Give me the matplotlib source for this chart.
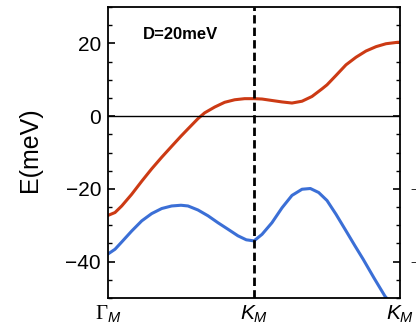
import matplotlib
matplotlib.use("Agg")
import matplotlib.pyplot as plt

# band energies along Gamma_M -> K_M -> K_M (k in path units)
k_upper = [0.000, 0.048, 0.094, 0.162, 0.231, 0.299, 0.368, 0.436, 0.500,
           0.548, 0.616, 0.662, 0.731, 0.799, 0.868, 0.936, 1.000, 1.055,
           1.123, 1.192, 1.260, 1.329, 1.397, 1.466, 1.500, 1.562, 1.630,
           1.699, 1.767, 1.836, 1.904, 1.984, 2.000]
e_upper = [-27.3, -26.5, -24.7, -21.5, -17.9, -14.5, -11.3, -8.3, -5.5,
           -3.5, -0.7, 0.9, 2.5, 3.8, 4.5, 4.8, 4.8, 4.7,
           4.3, 3.9, 3.6, 4.1, 5.4, 7.5, 8.6, 11.2, 14.1,
           16.2, 17.9, 19.1, 19.9, 20.3, 20.3]

k_lower = [0.000, 0.048, 0.094, 0.162, 0.231, 0.299, 0.368, 0.436, 0.500,
           0.548, 0.616, 0.685, 0.753, 0.822, 0.890, 0.947, 1.000, 1.055,
           1.123, 1.192, 1.260, 1.329, 1.386, 1.443, 1.500, 1.562, 1.637,
           1.692, 1.747, 1.822, 1.897, 1.950]
e_lower = [-37.9, -36.6, -34.6, -31.6, -28.8, -26.8, -25.4, -24.7, -24.5,
           -24.7, -25.8, -27.4, -29.3, -31.1, -32.9, -34.0, -34.3, -32.5,
           -29.3, -25.2, -21.8, -20.1, -19.9, -21.0, -23.2, -27.0, -32.0,
           -35.7, -39.3, -44.5, -49.5, -52.0]

k_ticks = [0, 1, 2]
k_labels = [r"$\Gamma_M$", r"$K_M$", r"$K_M$"]
e_ticks = [-40, -20, 0, 20]
e_labels = ["\u221240", "\u221220", "0", "20"]

plt.rcParams["font.family"] = ["Liberation Sans", "DejaVu Sans"]
plt.rcParams["mathtext.fontset"] = "custom"
plt.rcParams["mathtext.rm"] = "Liberation Serif"
plt.rcParams["mathtext.it"] = "Liberation Sans:italic"

fig = plt.figure(figsize=(4.16, 3.31), dpi=100)
ax = fig.add_axes([108 / 416, 33 / 331, 292 / 416, 291 / 331])

ax.plot(k_upper, e_upper, color="#cc3a14", lw=2.2)
ax.plot(k_lower, e_lower, color="#3b6fd6", lw=2.2)

ax.axhline(0, color="black", lw=1.0)
ax.axvline(1, color="black", lw=2.0, dashes=(3, 1.5))

ax.set_xlim(0, 2)
ax.set_ylim(-50, 30)

ax.set_xticks(k_ticks)
ax.set_xticklabels(k_labels, fontsize=15)
ax.set_yticks(e_ticks)
ax.set_yticklabels(e_labels, fontsize=15)
ax.set_yticks(range(-50, 31, 5), minor=True)

ax.tick_params(axis="x", length=0, pad=4)
ax.tick_params(axis="y", which="both", direction="in", left=True, right=True, pad=5)
ax.tick_params(axis="y", which="major", length=5, width=1.2)
ax.tick_params(axis="y", which="minor", length=3, width=1.0)

for sp in ax.spines.values():
    sp.set_linewidth(1.3)

fig.text(30 / 416, 1 - 150 / 331, "E(meV)", fontsize=18, rotation=90,
         ha="center", va="center")

ax.text(0.24, 21.2, "D=20meV", fontsize=12, fontweight="bold", va="baseline")

# minus signs of the neighbouring panel's tick labels
for val in [-20, -40]:
    fig.text(410 / 416, 1 - (116.5 - val * 3.65) / 331, "\u2212", fontsize=8,
             ha="left", va="center")

fig.savefig("out.png", dpi=100)
